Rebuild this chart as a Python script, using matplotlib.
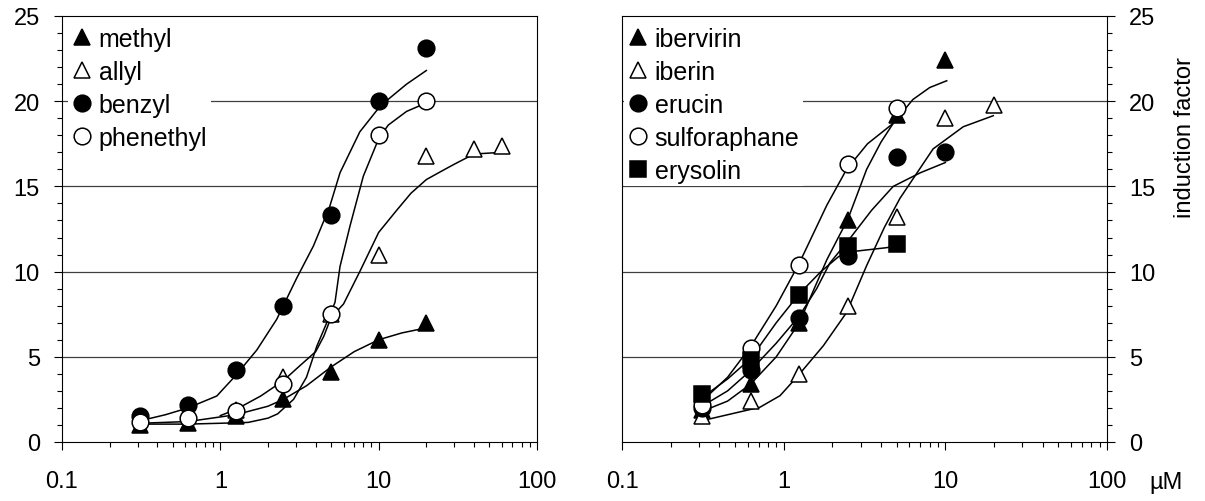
import numpy as np
import matplotlib.pyplot as plt
from matplotlib.ticker import MultipleLocator, FixedLocator, LogLocator, NullFormatter, FuncFormatter

plt.rcParams['font.family'] = ['Liberation Sans', 'DejaVu Sans']

# ---- left panel: measured points ----
x_left = [0.3125, 0.625, 1.25, 2.5, 5, 10, 20]
methyl = [1.0, 1.1, 1.5, 2.5, 4.1, 6.0, 7.0]
allyl_x = [1.25, 2.5, 5, 10, 20, 40, 60]
allyl = [1.9, 3.8, 7.5, 11.0, 16.8, 17.2, 17.4]
benzyl = [1.5, 2.2, 4.2, 8.0, 13.3, 20.0, 23.1]
phenethyl = [1.2, 1.4, 1.8, 3.4, 7.5, 18.0, 20.0]

# left panel: fitted curves
methyl_cx = [0.3125, 0.625, 1.25, 2.0, 2.5, 3.5, 5, 7, 10, 14, 20]
methyl_cy = [1.1, 1.2, 1.6, 2.1, 2.5, 3.3, 4.4, 5.3, 6.0, 6.4, 6.7]
allyl_cx = [1.0, 1.25, 1.8, 2.5, 3.2, 4.0, 4.5, 5.0, 6.0, 7.6, 10, 13, 16, 20, 25, 30, 40, 60]
allyl_cy = [1.55, 1.9, 2.7, 3.6, 4.5, 5.3, 6.2, 7.3, 8.1, 10.0, 12.3, 13.6, 14.6, 15.4, 15.9, 16.3, 16.9, 17.0]
benzyl_cx = [0.3125, 0.45, 0.625, 0.95, 1.25, 1.7, 2.27, 2.5, 3.03, 3.87, 4.9, 5.7, 7.6, 10, 11.8, 15, 20]
benzyl_cy = [1.25, 1.6, 2.0, 2.7, 3.9, 5.4, 7.2, 8.0, 9.6, 11.5, 13.8, 15.8, 18.2, 19.6, 20.2, 21.0, 21.8]
phenethyl_cx = [0.3125, 0.625, 1.0, 1.5, 2.0, 2.3, 2.9, 3.5, 4.06, 4.7, 5.3, 5.7, 6.6, 8.0, 10, 11.5, 15, 20]
phenethyl_cy = [1.05, 1.05, 1.1, 1.15, 1.4, 1.65, 2.5, 3.8, 5.6, 7.0, 8.2, 10.3, 12.7, 15.6, 17.8, 18.6, 19.4, 19.9]

# ---- right panel: measured points ----
x_right = [0.3125, 0.625, 1.25, 2.5, 5, 10, 20]
ibervirin = [1.9, 3.4, 7.0, 13.0, 19.2, 22.4]
iberin = [1.5, 2.4, 4.0, 8.0, 13.2, 19.0, 19.8]
erucin = [2.0, 4.2, 7.3, 10.9, 16.7, 17.0]
sulforaphane = [2.2, 5.5, 10.4, 16.3, 19.6]
erysolin = [2.8, 4.8, 8.6, 11.5, 11.6]

# right panel: fitted curves
ibervirin_cx = [0.3125, 0.45, 0.625, 0.9, 1.25, 1.85, 2.5, 3.26, 4.0, 4.76, 6.3, 8.0, 10.2]
ibervirin_cy = [1.8, 2.4, 3.4, 5.0, 7.0, 10.7, 13.1, 16.0, 17.6, 18.7, 20.1, 20.8, 21.2]
iberin_cx = [0.3125, 0.45, 0.713, 0.95, 1.23, 1.76, 2.45, 3.26, 4.2, 5.24, 8.4, 12.9, 19.8]
iberin_cy = [1.25, 1.6, 2.04, 2.72, 3.9, 5.65, 7.6, 10.35, 12.6, 14.3, 17.2, 18.5, 19.15]
erucin_cx = [0.3125, 0.45, 0.625, 0.9, 1.25, 1.6, 1.93, 2.5, 3.5, 4.76, 7.0, 10]
erucin_cy = [2.1, 3.0, 4.2, 5.8, 7.4, 9.0, 10.5, 11.8, 13.6, 15.0, 15.8, 16.4]
sulforaphane_cx = [0.3125, 0.45, 0.625, 0.9, 1.25, 1.85, 2.45, 3.3, 4.76]
sulforaphane_cy = [2.4, 3.8, 5.6, 8.0, 10.5, 13.9, 16.0, 17.5, 18.7]
erysolin_cx = [0.3125, 0.45, 0.625, 0.9, 1.25, 1.7, 2.2, 2.8, 4.3, 5]
erysolin_cy = [2.6, 3.7, 4.9, 7.0, 8.7, 10.0, 10.9, 11.2, 11.4, 11.5]


def style(ax, side):
    ax.set_xscale('log')
    ax.set_xlim(0.1, 100)
    ax.set_ylim(0, 25)
    ax.yaxis.set_major_locator(MultipleLocator(5))
    ax.yaxis.set_minor_locator(MultipleLocator(1))
    ax.xaxis.set_major_locator(FixedLocator([0.1, 1, 10, 100]))
    ax.xaxis.set_major_formatter(FuncFormatter(lambda v, p: f'{v:g}'))
    ax.xaxis.set_minor_locator(LogLocator(subs=np.arange(2, 10)))
    ax.xaxis.set_minor_formatter(NullFormatter())
    ax.tick_params(which='major', direction='out', length=6, width=0.8, labelsize=17)
    ax.tick_params(which='minor', direction='out', length=3.5, width=0.8)
    ax.tick_params(axis='x', pad=14)
    ax.tick_params(axis='y', pad=10)
    if side == 'right':
        ax.yaxis.tick_right()
    for sp in ax.spines.values():
        sp.set_linewidth(0.8)
    for v in (5, 10, 15, 20):
        ax.axhline(v, color='#404040', lw=0.9, zorder=0)


def pts(ax, x, y, marker, filled, label, ms=12):
    fc = 'black' if filled else 'white'
    h, = ax.plot(x[:len(y)], y, linestyle='none', marker=marker, ms=ms,
                 mfc=fc, mec='black', mew=1.1, zorder=3, label=label)
    return h


fig = plt.figure(figsize=(12.05, 5.02), dpi=100)
axL = fig.add_axes([62 / 1205, 59 / 502, 475 / 1205, 426 / 502])
axR = fig.add_axes([622 / 1205, 59 / 502, 485 / 1205, 426 / 502])
style(axL, 'left')
style(axR, 'right')

lw = 1.1
for cx, cy in [(methyl_cx, methyl_cy), (allyl_cx, allyl_cy),
               (benzyl_cx, benzyl_cy), (phenethyl_cx, phenethyl_cy)]:
    axL.plot(cx, cy, color='black', lw=lw, zorder=2)
hl = [pts(axL, x_left, methyl, '^', True, 'methyl'),
      pts(axL, allyl_x, allyl, '^', False, 'allyl'),
      pts(axL, x_left, benzyl, 'o', True, 'benzyl'),
      pts(axL, x_left, phenethyl, 'o', False, 'phenethyl')]

for cx, cy in [(ibervirin_cx, ibervirin_cy), (iberin_cx, iberin_cy),
               (erucin_cx, erucin_cy), (sulforaphane_cx, sulforaphane_cy),
               (erysolin_cx, erysolin_cy)]:
    axR.plot(cx, cy, color='black', lw=lw, zorder=2)
hr = [pts(axR, x_right, ibervirin, '^', True, 'ibervirin'),
      pts(axR, x_right, iberin, '^', False, 'iberin'),
      pts(axR, x_right, erucin, 'o', True, 'erucin'),
      pts(axR, x_right, sulforaphane, 'o', False, 'sulforaphane'),
      pts(axR, x_right, erysolin, 's', True, 'erysolin', ms=11)]

leg_kw = dict(loc='upper left', fontsize=18, handlelength=0.8, handletextpad=0.28,
              labelspacing=0.36, borderpad=0.15, borderaxespad=0, frameon=True,
              facecolor='white', edgecolor='none', framealpha=1, fancybox=False)
lg = axL.legend(handles=hl, bbox_to_anchor=(0.0126, 0.984), **leg_kw)
lg.set_zorder(5)
lg = axR.legend(handles=hr, bbox_to_anchor=(0.004, 0.984), **leg_kw)
lg.set_zorder(5)

fig.text(1185 / 1205, 1 - 138 / 502, 'induction factor', rotation=90,
         ha='center', va='center', fontsize=17)
fig.text(1166 / 1205, 1 - 483 / 502, 'µM', ha='center', va='center', fontsize=17)

fig.savefig('out.png', dpi=100)
